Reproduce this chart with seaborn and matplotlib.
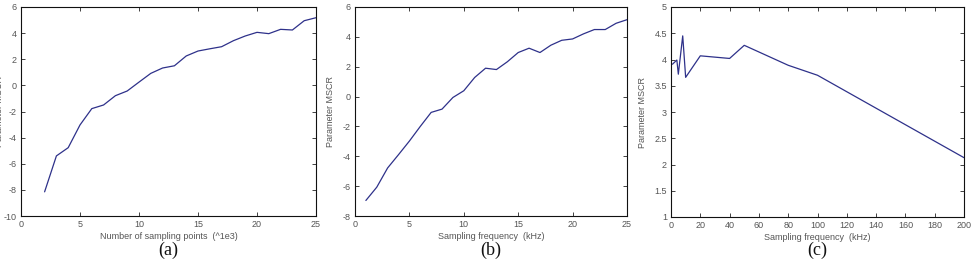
import numpy as np
import pandas as pd
import matplotlib
matplotlib.use("Agg")
import matplotlib.pyplot as plt
import seaborn as sns

# Panel (a)
points_a = list(range(2, 26))
mscr_a = [-8.15, -5.4, -4.77, -3.03, -1.78, -1.5, -0.79, -0.43, 0.25, 0.92, 1.33, 1.5,
          2.25, 2.63, 2.8, 2.96, 3.42, 3.78, 4.06, 3.96, 4.29, 4.24, 4.95, 5.18]
# Panel (b)
freq_b = list(range(1, 26))
mscr_b = [-6.96, -6.07, -4.78, -3.89, -2.98, -2.0, -1.06, -0.84, -0.06, 0.39, 1.28, 1.9,
          1.81, 2.33, 2.95, 3.24, 2.95, 3.44, 3.77, 3.86, 4.2, 4.49, 4.49, 4.91, 5.15]
# Panel (c)
freq_c = [1, 4, 5, 8, 10, 20, 40, 50, 80, 100, 200]
mscr_c = [3.91, 3.99, 3.72, 4.45, 3.66, 4.07, 4.02, 4.27, 3.89, 3.70, 2.13]

xlabels = ["Number of sampling points  (^1e3)", "Sampling frequency  (kHz)", "Sampling frequency  (kHz)"]
captions = ["(a)", "(b)", "(c)"]
ylabel = "Parameter MSCR"

sns.set_style("ticks")
plt.rcParams['font.family'] = ['Liberation Sans', 'DejaVu Sans']

fig = plt.figure(figsize=(9.76, 2.68), dpi=100)
line_color = "#2e318a"

positions = [
    [21/976, 1-216/268, 295/976, 209/268],
    [355/976, 1-216/268, 272/976, 209/268],
    [671/976, 1-217/268, 293/976, 210/268],
]
datasets = [(points_a, mscr_a), (freq_b, mscr_b), (freq_c, mscr_c)]
xlims = [(0, 25), (0, 25), (0, 200)]
ylims = [(-10, 6), (-8, 6), (1, 5)]
xticks = [np.arange(0, 26, 5), np.arange(0, 26, 5), np.arange(0, 201, 20)]
yticks = [np.arange(-10, 7, 2), np.arange(-8, 7, 2), np.arange(1, 5.01, 0.5)]
ylabel_x = [-0.058, -0.0735, -0.082]

for i in range(3):
    ax = fig.add_axes(positions[i])
    x, y = datasets[i]
    df = pd.DataFrame({"x": x, "y": y})
    sns.lineplot(data=df, x="x", y="y", ax=ax, color=line_color, linewidth=0.9)
    ax.set_xlim(*xlims[i])
    ax.set_ylim(*ylims[i])
    ax.set_xticks(xticks[i])
    ax.set_yticks(yticks[i])
    ax.set_yticklabels([("%g" % v) for v in yticks[i]])
    ax.tick_params(direction="in", length=3, width=0.6, labelsize=6.5, colors="#222222",
                   top=True, right=True, pad=3)
    for lbl in ax.get_xticklabels() + ax.get_yticklabels():
        lbl.set_color("#555555")
    for s in ax.spines.values():
        s.set_linewidth(0.8)
        s.set_color("#111111")
    ax.set_xlabel(xlabels[i], fontsize=6.5, color="#555555", labelpad=2)
    ax.set_ylabel(ylabel, fontsize=6.5, color="#555555")
    ax.yaxis.set_label_coords(ylabel_x[i], 0.5)
    ax.grid(False)
    cx = positions[i][0] + positions[i][2] / 2
    fig.text(cx, 1 - 250/268, captions[i], ha="center", va="center",
             fontsize=13, family="Liberation Serif", color="#111111")

fig.savefig("out.png", dpi=100)
